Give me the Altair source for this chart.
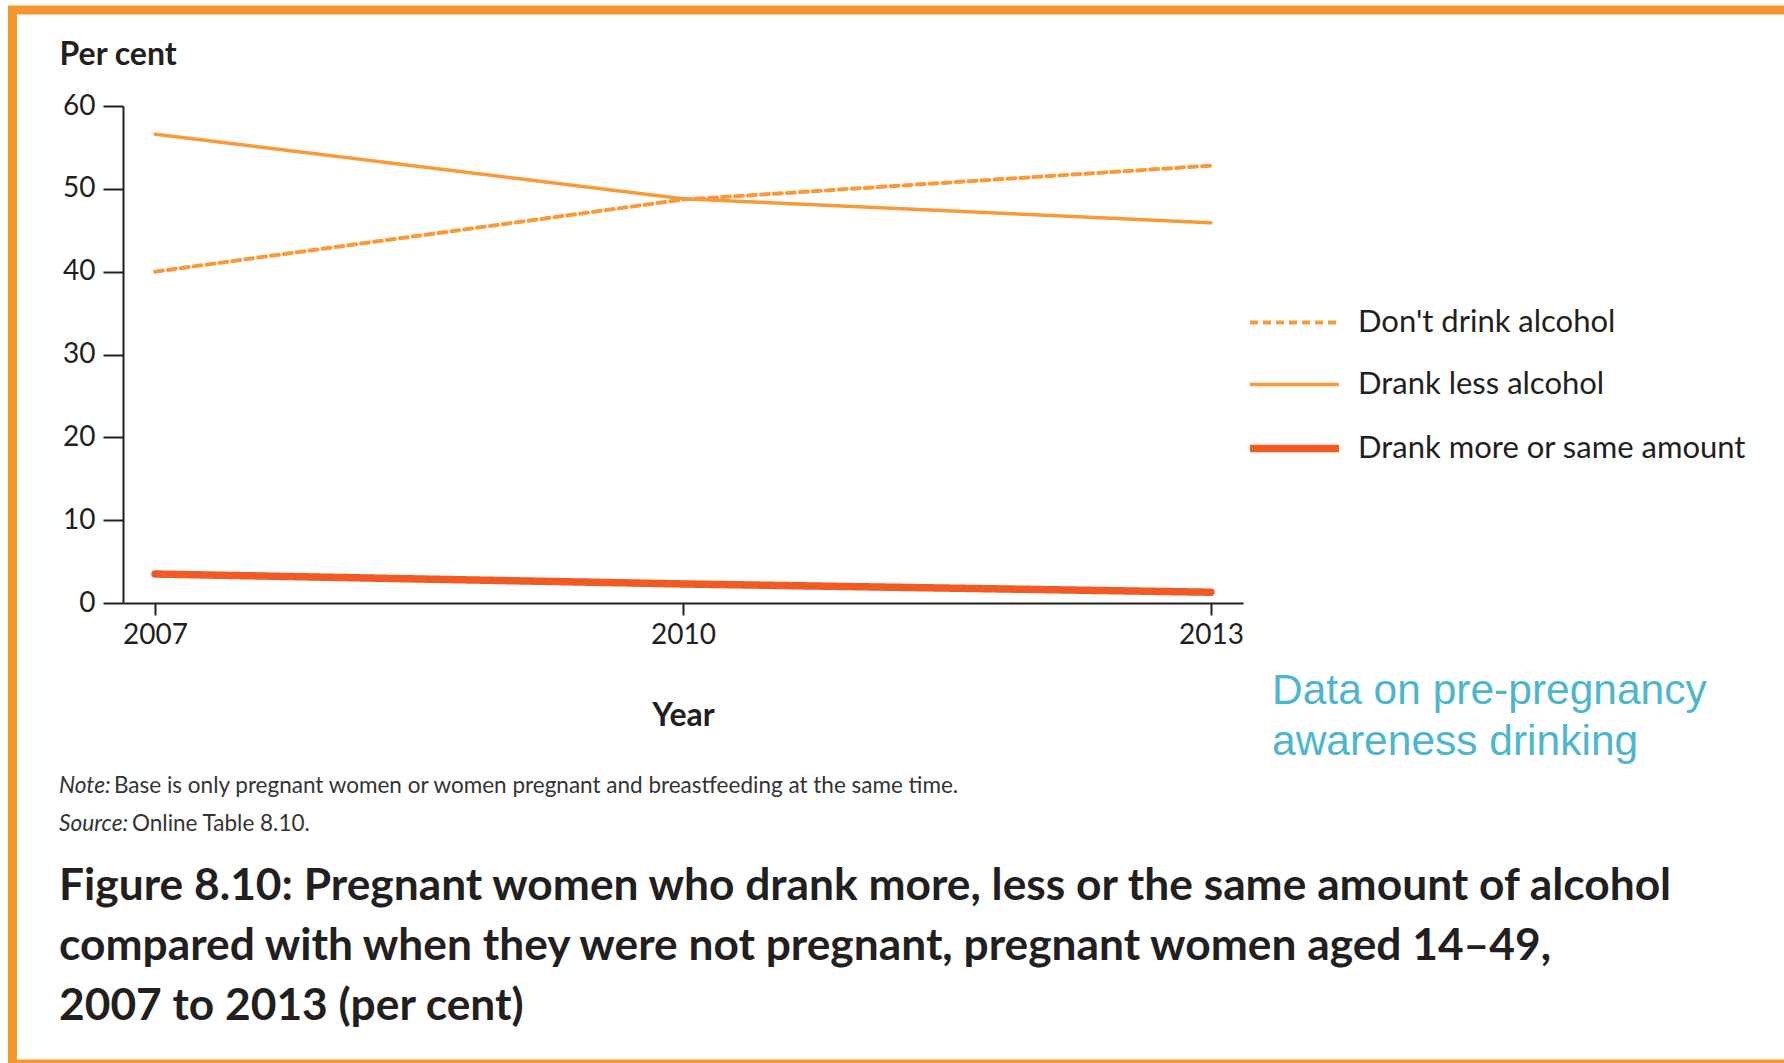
import altair as alt
import pandas as pd

years = [2007, 2010, 2013]
series = ["Don't drink alcohol", "Drank less alcohol", "Drank more or same amount"]
dont_drink = [40.0, 48.7, 52.8]
drank_less = [56.6, 48.8, 45.9]
drank_more = [3.5, 2.3, 1.3]

colors = ["#F89A3A", "#F89A3A", "#F15A24"]
dashes = [[8, 5], [1, 0], [1, 0]]
widths = [4, 3.5, 7.5]

rows = []
for name, vals in zip(series, [dont_drink, drank_less, drank_more]):
    for y, v in zip(years, vals):
        rows.append({"year": y, "value": v, "series": name})
df = pd.DataFrame(rows)

W, H = 1120, 497
PL, PT = 123, 106
FONT = "Lato"

lines = alt.Chart(df).mark_line(strokeCap="round").encode(
    x=alt.X("year:Q",
            scale=alt.Scale(domain=[2006.818, 2013.182], nice=False, zero=False),
            axis=alt.Axis(values=years, format="d", tickSize=12, tickWidth=2,
                          domainWidth=2, domainColor="#231F20", tickColor="#231F20",
                          labelFontSize=28, labelFont=FONT, labelColor="#231F20",
                          labelPadding=6, grid=False,
                          title="Year", titleFont=FONT, titleFontSize=32,
                          titleFontWeight="bold", titleColor="#231F20",
                          titleY=112, titleBaseline="middle")),
    y=alt.Y("value:Q",
            scale=alt.Scale(domain=[0, 60], nice=False),
            axis=alt.Axis(values=[0, 10, 20, 30, 40, 50, 60], tickSize=20, tickWidth=2,
                          domainWidth=2, domainColor="#231F20", tickColor="#231F20",
                          labelFontSize=28, labelFont=FONT, labelColor="#231F20",
                          labelPadding=8, grid=False,
                          title="Per cent", titleAngle=0, titleAlign="left",
                          titleBaseline="alphabetic", titleX=-64, titleY=-42,
                          titleFont=FONT, titleFontSize=32, titleFontWeight="bold",
                          titleColor="#231F20")),
    color=alt.Color("series:O", scale=alt.Scale(type="ordinal", domain=series, range=colors),
                    legend=alt.Legend(title=None, orient="none", legendX=1123, legendY=170,
                                      symbolType="stroke", symbolSize=7921,
                                      labelFont=FONT, labelFontSize=31, labelColor="#231F20",
                                      labelOffset=15, rowPadding=-20, labelLimit=600)),
    strokeDash=alt.StrokeDash("series:O", scale=alt.Scale(type="ordinal", domain=series, range=dashes),
                              legend=alt.Legend(title=None)),
    strokeWidth=alt.StrokeWidth("series:O", scale=alt.Scale(type="ordinal", domain=series, range=widths),
                                legend=alt.Legend(title=None)),
)

one = pd.DataFrame({"a": [0]})

def txt(text, x, y, size, color="#231F20", weight="normal", style="normal", font=FONT,
        baseline="middle"):
    return alt.Chart(one).mark_text(
        text=text, align="left", baseline=baseline, fontSize=size, font=font,
        color=color, fontWeight=weight, fontStyle=style
    ).encode(x=alt.value(x - PL), y=alt.value(y - PT))

note_label = txt("Note:", 59, 786, 22.7, color="#333333", style="italic")
note_body = txt("Base is only pregnant women or women pregnant and breastfeeding at the same time.",
                114, 786, 22.5, color="#333333")
src_label = txt("Source:", 59, 824, 22.7, color="#333333", style="italic")
src_body = txt("Online Table 8.10.", 132, 824, 22.5, color="#333333")

title1 = txt("Figure 8.10: Pregnant women who drank more, less or the same amount of alcohol",
             59, 887, 44.3, weight="bold")
title2 = txt("compared with when they were not pregnant, pregnant women aged 14\u201349,",
             59, 947, 44.3, weight="bold")
title3 = txt("2007 to 2013 (per cent)", 59, 1007, 44.3, weight="bold")

blue1 = txt("Data on pre-pregnancy", 1272, 691, 42.5, color="#4DB6CC", font="Liberation Sans")
blue2 = txt("awareness drinking", 1272, 742, 42.5, color="#4DB6CC", font="Liberation Sans")

border = alt.Chart(one).mark_rect(fill=None, stroke="#F7952F", strokeWidth=9).encode(
    x=alt.value(12.5 - PL), x2=alt.value(1800 - PL),
    y=alt.value(10 - PT), y2=alt.value(1064 - PT)
)

chart = alt.layer(
    border, lines, note_label, note_body, src_label, src_body,
    title1, title2, title3, blue1, blue2
).properties(
    width=W, height=H,
    autosize=alt.AutoSizeParams(type="none"),
    padding={"left": PL, "top": PT, "right": 1784 - PL - W, "bottom": 1063 - PT - H},
    background="white",
).configure_view(stroke=None)

chart.save("out.html", embed_options={"renderer": "svg", "actions": False})
